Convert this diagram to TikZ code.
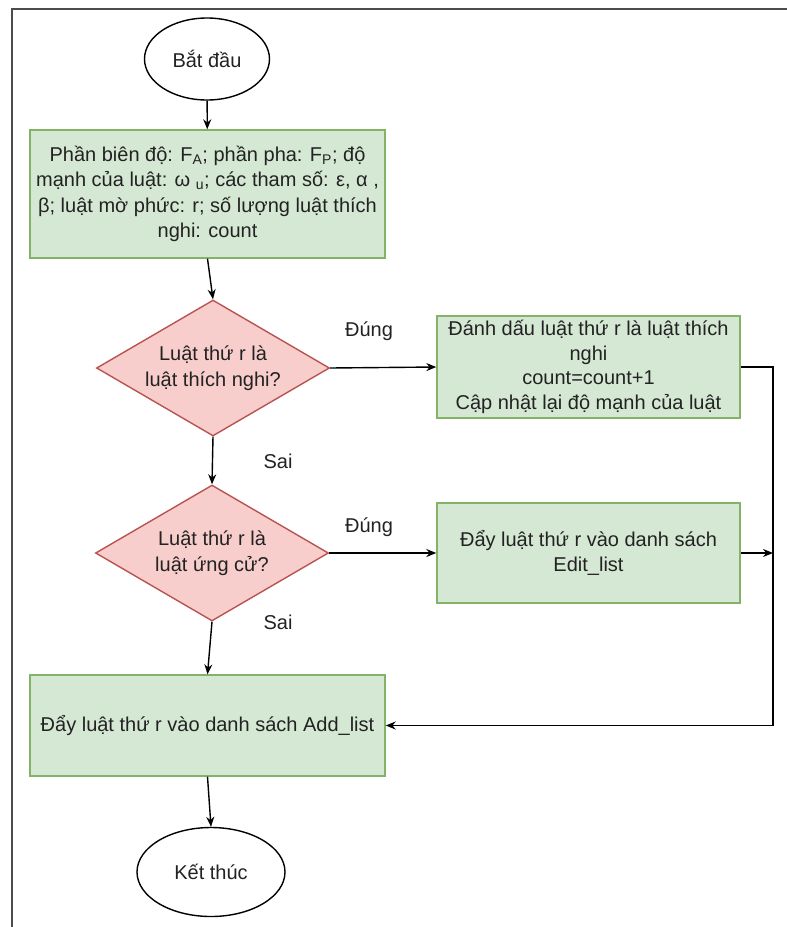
\documentclass[tikz,border=0pt]{standalone}
\usepackage{fontspec}
\setmainfont{Liberation Sans}
\usetikzlibrary{shapes.geometric,arrows.meta}
\definecolor{boxfill}{HTML}{D5E8D4}
\definecolor{boxline}{HTML}{82B366}
\definecolor{askfill}{HTML}{F8CECC}
\definecolor{askline}{HTML}{B85450}
\definecolor{txt}{HTML}{222222}
\tikzset{
  stepbox/.style={draw=boxline,fill=boxfill,line width=1.4pt,align=center,
    text=txt,font=\fontsize{20}{25.5}\selectfont},
  askbox/.style={diamond,draw=askline,fill=askfill,line width=1.4pt,align=center,
    text=txt,inner sep=-12pt,shape aspect=1.71,minimum width=233pt,minimum height=136pt,
    font=\fontsize{20}{26}\selectfont},
  endbox/.style={ellipse,draw=black,line width=1.4pt,text=txt,
    font=\fontsize{20}{24}\selectfont},
  flow/.style={->,line width=1.4pt},
  tag/.style={text=txt,font=\fontsize{20}{24}\selectfont}
}
\begin{document}
\begin{tikzpicture}[x=1pt,y=-1pt,>={Stealth[length=10pt,width=8pt]}]
  \useasboundingbox (0,0) rectangle (787,927);
  % frame of the screenshot
  \draw[line width=2pt,black!70] (12,927) -- (12,9) -- (787,9);

  \node[endbox,minimum width=125pt,minimum height=82pt] (start) at (207,59) {Bắt đầu};
  \node[stepbox,minimum width=355pt,minimum height=128pt] (init) at (207.5,194)
    {Phần biên độ: F\textsubscript{A}; phần pha: F\textsubscript{P}; độ\\
     mạnh của luật: ω \textsubscript{u}; các tham số: ε, α ,\\
     β; luật mờ phức: r; số lượng luật thích\\
     nghi: count};
  \node[askbox] (adapt) at (213,368) {Luật thứ r là\\luật thích nghi?};
  \node[stepbox,minimum width=303pt,minimum height=102pt,
    font=\fontsize{20}{24.5}\selectfont] (mark) at (588.5,367)
    {Đánh dấu luật thứ r là luật thích\\nghi\\count=count+1\\Cập nhật lại độ mạnh của luật};
  \node[askbox] (cand) at (212,553) {Luật thứ r là\\luật ứng cử?};
  \node[stepbox,minimum width=303pt,minimum height=100pt] (edit) at (588.5,553)
    {Đẩy luật thứ r vào danh sách\\Edit\_list};
  \node[stepbox,minimum width=355pt,minimum height=101pt] (add) at (207.5,725.5)
    {Đẩy luật thứ r vào danh sách Add\_list};
  \node[endbox,minimum width=148pt,minimum height=89pt] (stop) at (211,872) {Kết thúc};
  \coordinate (rail) at (773,640);

  \draw[flow] (start) -- (init);
  \draw[flow] (init.south) -- (adapt.north);
  \draw[flow] (adapt.east) -- (mark.west);
  \draw[flow] (adapt.south) -- (cand.north);
  \draw[flow] (cand.east) -- (edit.west);
  \draw[flow] (cand.south) -- (add.north);
  \draw[flow] (add.south) -- (stop.north);
  \draw[flow] (mark.east) -| (rail) |- (add.east);
  \draw[flow] (edit.east) -- (edit.east -| rail);

  \node[tag] (yes1) at (369,331) {Đúng};
  \node[tag] (no1) at (278,461) {Sai};
  \node[tag] (yes2) at (369,527) {Đúng};
  \node[tag] (no2) at (278,622) {Sai};
\end{tikzpicture}
\end{document}
